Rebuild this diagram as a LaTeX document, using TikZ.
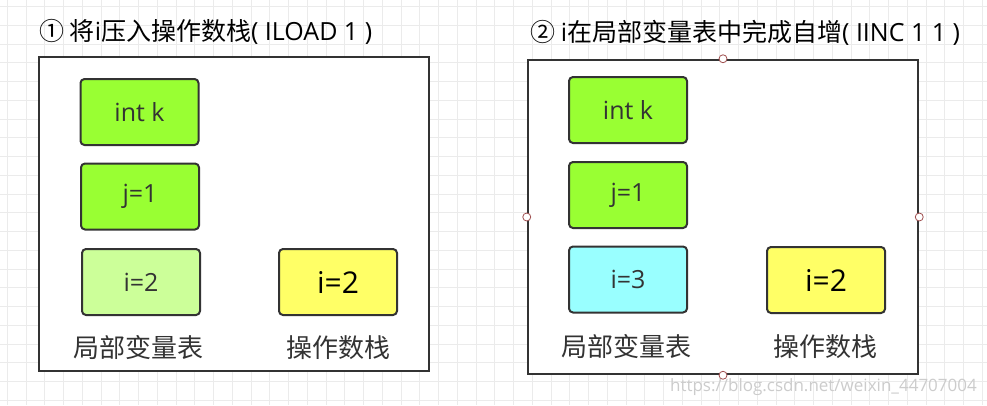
\documentclass[tikz,border=0pt]{standalone}
\usepackage{fontspec}
\setmainfont{Open Sans}
\newfontfamily\cjk{Noto Sans CJK SC}
\definecolor{gridc}{HTML}{EBEBEB}
\definecolor{edgec}{HTML}{333333}
\definecolor{vgreen}{HTML}{99FF33}
\definecolor{lgreen}{HTML}{CCFF99}
\definecolor{vcyan}{HTML}{99FFFF}
\definecolor{vyellow}{HTML}{FFFF66}
\definecolor{handlec}{HTML}{A05050}
\begin{document}
\begin{tikzpicture}[x=1pt,y=-1pt,
  frame/.style={draw=edgec, line width=2.5pt, fill=white, minimum width=390pt, minimum height=314pt, inner sep=0pt},
  varbox/.style={draw=edgec, line width=2pt, rounded corners=4pt, minimum width=118pt, minimum height=66pt, inner sep=0pt, text=edgec, font=\fontsize{25}{30}\selectfont},
  stackbox/.style={varbox, fill=vyellow, text=black, font=\fontsize{30}{34}\selectfont},
  lbl/.style={text=edgec, font=\cjk\fontsize{26}{30}\selectfont, inner sep=0pt},
  ttl/.style={text=black, font=\fontsize{25}{30}\selectfont, inner sep=0pt, anchor=west},
  handle/.style={circle, draw=handlec, fill=white, line width=0.8pt, minimum size=8pt, inner sep=0pt}]
\useasboundingbox (0,0) rectangle (987,405);
\fill[white] (0,0) rectangle (987,405);
\foreach \i in {0,...,52} \draw[gridc, line width=1pt] ({7.3+18.75*\i},0) -- ({7.3+18.75*\i},405);
\foreach \j in {0,...,21} \draw[gridc, line width=1pt] (0,{6.7+18.75*\j}) -- (987,{6.7+18.75*\j});

% titles
\node[ttl] (t1) at (39,32) {{\cjk ① 将}i{\cjk 压入操作数栈}( ILOAD 1 )};
\node[ttl] (t2) at (530,33) {{\cjk ② }i{\cjk 在局部变量表中完成自增}( IINC 1 1 )};

% frames
\node[frame] (f1) at (234,214) {};
\node[frame] (f2) at (723,217) {};

% left panel
\node[varbox, fill=vgreen] (k1) at (139.5,112) {int k};
\node[varbox, fill=vgreen] (j1) at (140,196.5) {j=1};
\node[varbox, fill=lgreen] (i1) at (141,282) {i=2};
\node[stackbox] (s1) at (338,282) {i=2};
\node[lbl] (l1) at (138,348) {局部变量表};
\node[lbl] (o1) at (338,348) {操作数栈};

% right panel
\node[varbox, fill=vgreen] (k2) at (628,110) {int k};
\node[varbox, fill=vgreen] (j2) at (628,195) {j=1};
\node[varbox, fill=vcyan] (i2) at (628,279.5) {i=3};
\node[stackbox] (s2) at (826,280) {i=2};
\node[lbl] (l2) at (626,347) {局部变量表};
\node[lbl] (o2) at (825,347) {操作数栈};

% selection handles
\node[handle] (hn) at (f2.north) {};
\node[handle] (hs) at (f2.south) {};
\node[handle] (hw) at (f2.west) {};
\node[handle] (he) at (f2.east) {};

% watermark
\node[anchor=east, text=gray!40, font=\fontsize{17}{19}\selectfont, inner sep=0pt] (wm) at (977,387) {https://blog.csdn.net/weixin\_44707004};
\end{tikzpicture}
\end{document}
